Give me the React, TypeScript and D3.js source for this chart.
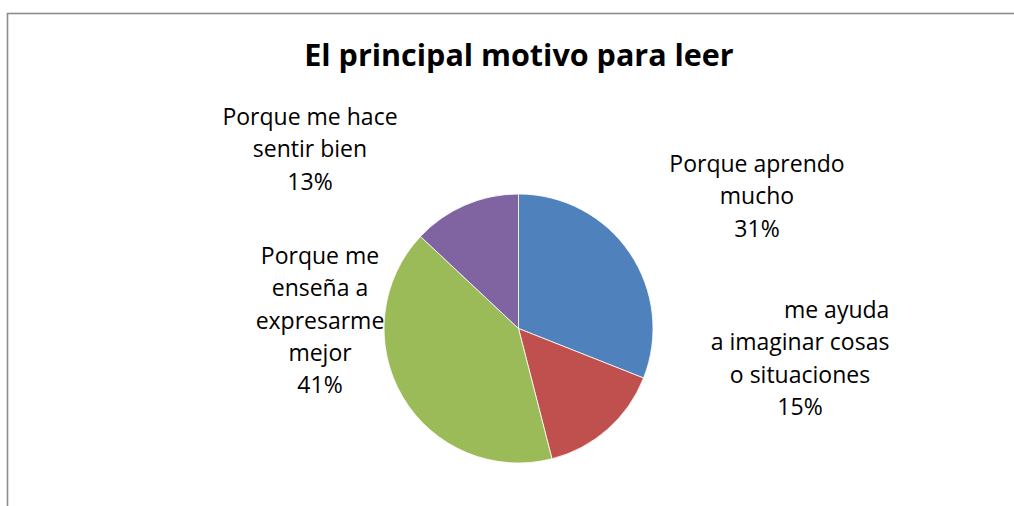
import React, { useEffect, useRef } from "react";
import * as d3 from "d3";

const categories = [
  "Porque aprendo mucho",
  "me ayuda a imaginar cosas o situaciones",
  "Porque me enseña a expresarme mejor",
  "Porque me hace sentir bien",
];
const values = [31, 15, 41, 13];
const percentLabels = ["31%", "15%", "41%", "13%"];
const labelLines = [
  ["Porque aprendo", "mucho"],
  ["me ayuda", "a imaginar cosas", "o situaciones"],
  ["Porque me", "enseña a", "expresarme", "mejor"],
  ["Porque me hace", "sentir bien"],
];
const colors = ["#4F81BD", "#C0504D", "#9BBB59", "#8064A2"];
const title = "El principal motivo para leer";

// layout
const W = 1014;
const H = 506;
const CX = 518.5;
const CY = 328.5;
const R = 134.5;
// label block centers (x) and first-baseline (y)
const labelPos = [
  { x: 757, y: 172 },
  { x: 800, y: 318 },
  { x: 320, y: 264 },
  { x: 310, y: 125 },
];
const LINE_H = 32.3;
const FONT = "'Open Sans', 'Noto Sans', sans-serif";

export default function App() {
  const ref = useRef<SVGSVGElement>(null);
  useEffect(() => {
    const svg = d3.select(ref.current);
    svg.selectAll("*").remove();

    svg
      .append("rect")
      .attr("x", 7.5)
      .attr("y", 13.5)
      .attr("width", 1100)
      .attr("height", 600)
      .attr("fill", "white")
      .attr("stroke", "#8c8c8c")
      .attr("stroke-width", 1.6);

    svg
      .append("text")
      .attr("x", 519)
      .attr("y", 66)
      .attr("text-anchor", "middle")
      .attr("font-family", FONT)
      .attr("font-weight", "bold")
      .attr("font-size", 30.5)
      .attr("fill", "#000")
      .text(title);

    const pie = d3
      .pie<number>()
      .sort(null)
      .value((d) => d)
      .startAngle(0)
      .endAngle(2 * Math.PI);
    const arc = d3.arc<d3.PieArcDatum<number>>().innerRadius(0).outerRadius(R);

    const g = svg.append("g").attr("transform", `translate(${CX},${CY})`);
    g.selectAll("path")
      .data(pie(values))
      .enter()
      .append("path")
      .attr("d", arc)
      .attr("fill", (_d, i) => colors[i])
      .attr("stroke", "#ffffff")
      .attr("stroke-width", 0.8);

    labelLines.forEach((lines, i) => {
      const all = [...lines, percentLabels[i]];
      const t = svg
        .append("text")
        .attr("font-family", FONT)
        .attr("font-size", 23)
        .attr("fill", "#000")
        .attr("aria-label", categories[i]);
      const spans = all.map((ln, j) =>
        t
          .append("tspan")
          .attr("x", labelPos[i].x)
          .attr("y", labelPos[i].y + j * LINE_H)
          .attr("text-anchor", "middle")
          .text(ln)
      );
      if (i === 1) {
        // first line right-aligned to the second line
        const w2 = (spans[1].node() as SVGTSpanElement).getComputedTextLength();
        spans[0]
          .attr("text-anchor", "end")
          .attr("x", labelPos[i].x + w2 / 2);
      }
    });
  }, []);
  return (
    <svg
      ref={ref}
      width={W}
      height={H}
      style={{ position: "absolute", left: 0, top: 0, background: "white" }}
    />
  );
}
